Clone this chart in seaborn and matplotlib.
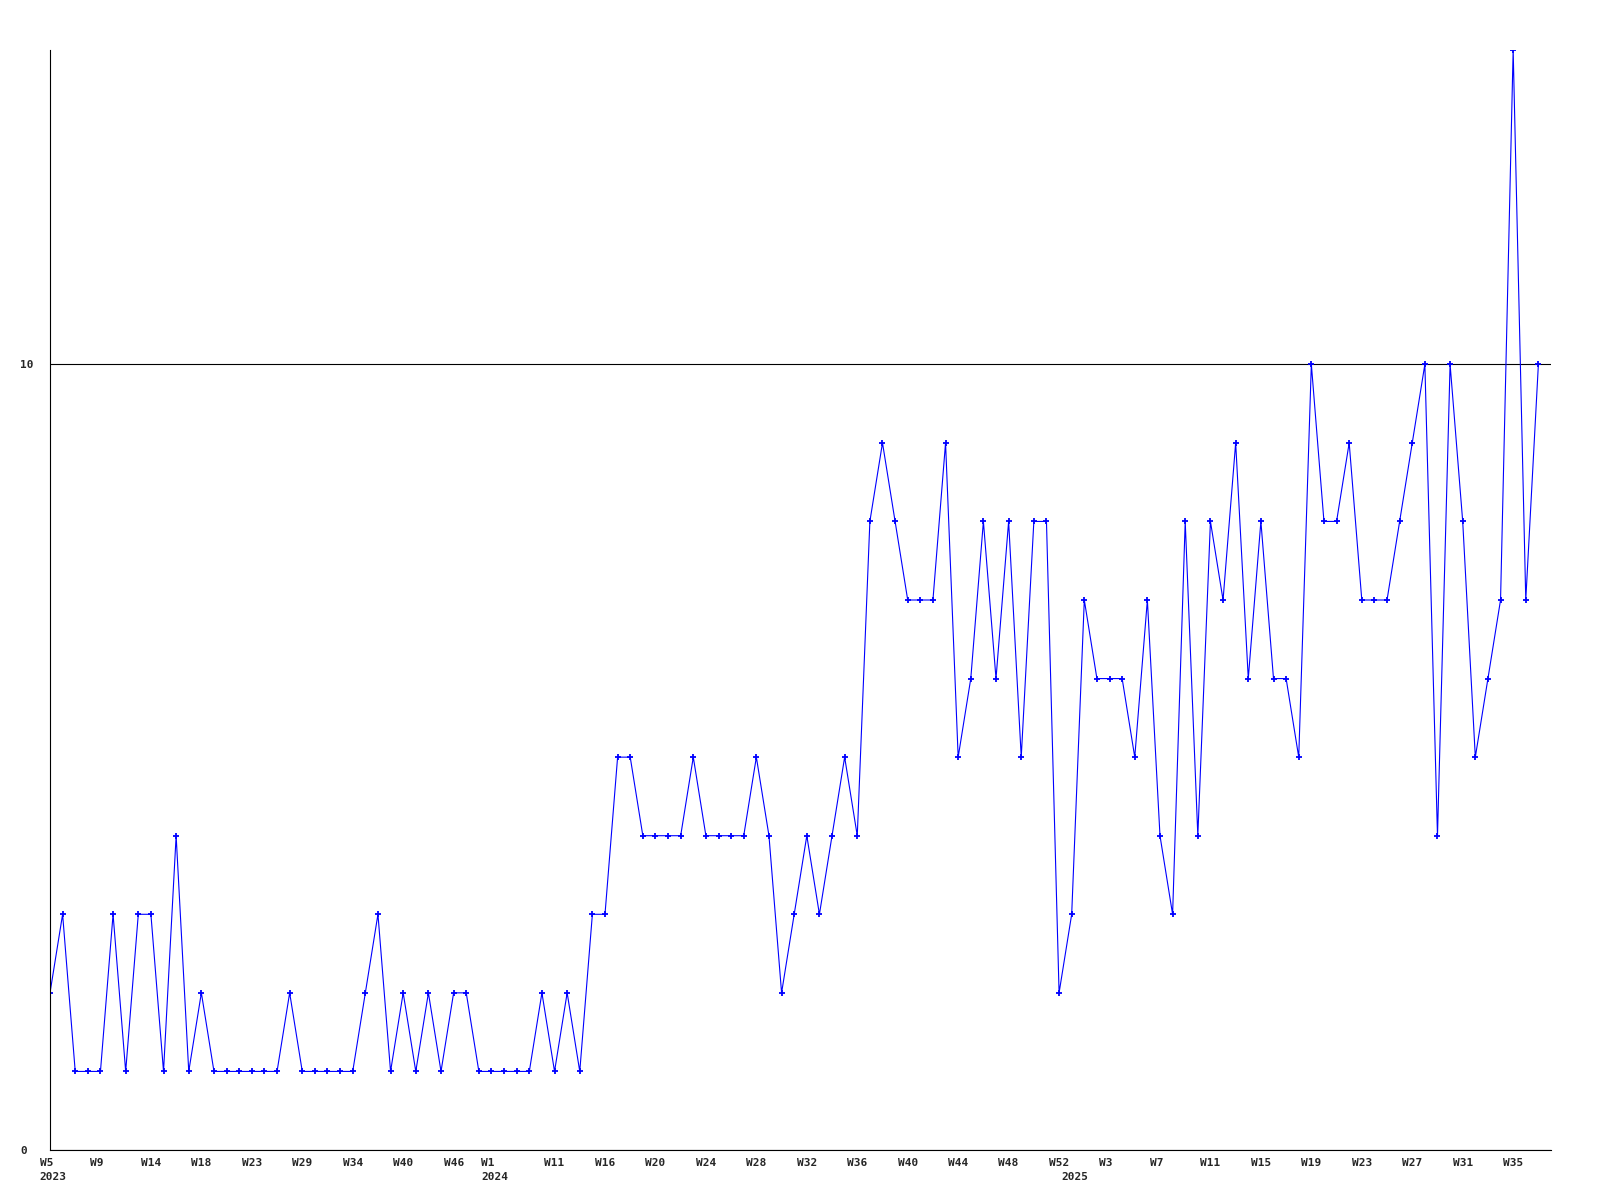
import matplotlib
matplotlib.use("Agg")
import matplotlib.pyplot as plt
import matplotlib.transforms as mtransforms
import pandas as pd
import seaborn as sns

# weekly counts, one per sample point
counts = [
    2, 3, 1, 1, 1, 3, 1, 3, 3, 1, 4, 1, 2, 1, 1, 1, 1, 1, 1, 2,
    1, 1, 1, 1, 1, 2, 3, 1, 2, 1, 2, 1, 2, 2, 1, 1, 1, 1, 1, 2,
    1, 2, 1, 3, 3, 5, 5, 4, 4, 4, 4, 5, 4, 4, 4, 4, 5, 4, 2, 3,
    4, 3, 4, 5, 4, 8, 9, 8, 7, 7, 7, 9, 5, 6, 8, 6, 8, 5, 8, 8,
    2, 3, 7, 6, 6, 6, 5, 7, 4, 3, 8, 4, 8, 7, 9, 6, 8, 6, 6, 5,
    10, 8, 8, 9, 7, 7, 7, 8, 9, 10, 4, 10, 8, 5, 6, 7, 14, 7, 10,
]

week_tick_idx = [0, 4, 8, 12, 16, 20, 24, 28, 32, 35, 40, 44, 48, 52, 56,
                 60, 64, 68, 72, 76, 80, 84, 88, 92, 96, 100, 104, 108, 112, 116]
week_labels = ["W5", "W9", "W14", "W18", "W23", "W29", "W34", "W40", "W46", "W1",
               "W11", "W16", "W20", "W24", "W28", "W32", "W36", "W40", "W44", "W48",
               "W52", "W3", "W7", "W11", "W15", "W19", "W23", "W27", "W31", "W35"]

year_tick_idx = [0, 35, 81]
year_labels = ["2023", "2024", "2025"]

y_ticks = [0, 10]

FONT_SIZE = 8

df = pd.DataFrame({"idx": range(len(counts)), "count": counts})

sns.set_style("white")
plt.rcParams["font.family"] = ["DejaVu Sans Mono"]
plt.rcParams["font.weight"] = "bold"
plt.rcParams["font.size"] = FONT_SIZE

fig = plt.figure(figsize=(16, 12), dpi=100)
ax = fig.add_axes([50 / 1600, 50 / 1200, 1501 / 1600, 1100 / 1200])

sns.lineplot(data=df, x="idx", y="count", ax=ax, color="#0000ff", linewidth=0.8,
             marker="+", markersize=5, markeredgewidth=1.3, markeredgecolor="#0000ff")

ax.set_xlim(0, len(counts))
ax.set_ylim(0, 14)

ax.set_yticks(y_ticks)
ax.set_yticklabels([str(v) for v in y_ticks])
ax.tick_params(axis="y", length=0, pad=21.6, labelsize=FONT_SIZE)
plt.setp(ax.get_yticklabels(), ha="left", weight="bold")
ax.grid(axis="y", color="black", linewidth=0.8)
ax.grid(axis="x", visible=False)

ax.xaxis.remove_overlapping_locs = False
ax.set_xticks(week_tick_idx)
ax.set_xticklabels(week_labels, weight="bold")
ax.set_xticks(year_tick_idx, minor=True)
ax.set_xticklabels(year_labels, minor=True, weight="bold")
ax.tick_params(axis="x", which="major", length=0, pad=5.5, labelsize=FONT_SIZE)
ax.tick_params(axis="x", which="minor", length=0, pad=16, labelsize=FONT_SIZE)

# labels start 1.5 characters left of their point, as in the source chart
char_w = 0.602 * FONT_SIZE / 72
for lbl in ax.get_xticklabels() + ax.get_xticklabels(minor=True):
    n = len(lbl.get_text())
    shift = (n / 2 - 1.5) * char_w
    lbl.set_transform(lbl.get_transform()
                      + mtransforms.ScaledTranslation(shift, 0, fig.dpi_scale_trans))

ax.set_xlabel("")
ax.set_ylabel("")
sns.despine(ax=ax)
for side in ("left", "bottom"):
    ax.spines[side].set_color("black")
    ax.spines[side].set_linewidth(0.8)

fig.savefig("out.png", dpi=100)
plt.close(fig)
